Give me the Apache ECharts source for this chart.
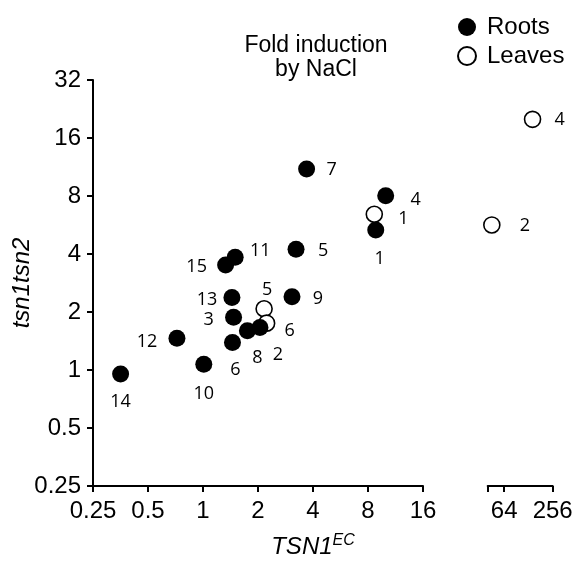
<!DOCTYPE html>
<html>
<head>
<meta charset="utf-8">
<script src="https://cdn.jsdelivr.net/npm/echarts@6/dist/echarts.min.js"></script>
<style>
html,body{margin:0;padding:0;background:#fff;}
#chart{width:586px;height:561px;}
</style>
</head>
<body>
<div id="chart"></div>
<script>
// ---- data ----
const rootIds = ['1','2','3','4','5','6','7','8','9','10','11','12','13','14','15'];
const rootX   = [8.82, 2.05, 1.47, 10.0, 3.23, 1.45, 3.69, 1.75, 3.07, 1.01, 1.50, 0.72, 1.44, 0.354, 1.33];
const rootY   = [5.33, 1.66, 1.88, 8.03, 4.23, 1.39, 11.05, 1.60, 2.40, 1.07, 3.85, 1.46, 2.38, 0.953, 3.51];

const leafIds = ['1','2','4','5','6'];
const leafX   = [8.66, 45, 144, 2.16, 2.23];
const leafY   = [6.43, 5.66, 20, 2.08, 1.75];

const xTicksLeft  = [0.25, 0.5, 1, 2, 4, 8, 16];
const xTicksRight = [64, 256];
const yTicks      = [0.25, 0.5, 1, 2, 4, 8, 16, 32];
const rightAxisStart = 40;

// ---- label placement (style, not data) ----
const rootLabelOffset = {
  '1':[4,29],'2':[18,27],'3':[-25,3],'4':[30,4],'5':[27,2],'6':[3,27],'7':[25,1],
  '8':[10,27],'9':[26,2],'10':[0,30],'11':[25,-6],'12':[-30,4],'13':[-25,2],'14':[0,28],'15':[-29,2]
};
const leafLabelOffset = {'1':[29,5],'2':[33,1],'4':[27,1],'5':[3,-19],'6':[23,8]};

const AX = 'Liberation Sans, Arial, sans-serif';
const LB = 'Open Sans, sans-serif';
const breakAt = xTicksLeft[xTicksLeft.length-1];

function pts(ids, xs, ys, offs, filterFn) {
  const out = [];
  ids.forEach((id, i) => {
    if (!filterFn(xs[i])) return;
    out.push({
      value: [xs[i], ys[i]],
      label: {offset: offs[id]},
      name: id
    });
  });
  return out;
}

const labelCommon = {
  show: true, position: 'inside', formatter: p => p.name,
  color: '#000', fontFamily: LB, fontSize: 18
};
const rootStyle = {color: '#000', opacity: 1};
const leafStyle = {color: '#fff', borderColor: '#000', borderWidth: 1.6, opacity: 1};

const chart = echarts.init(document.getElementById('chart'), null, {renderer: 'canvas'});
const gridTop = 80, gridH = 406;

chart.setOption({
  animation: false,
  backgroundColor: '#fff',
  title: {
    text: 'Fold induction\nby NaCl',
    left: 311, top: 29, textAlign: 'center',
    textStyle: {fontFamily: AX, fontSize: 23, fontWeight: 'normal', color: '#000', lineHeight: 24}
  },
  legend: {
    orient: 'vertical', left: 452, top: 10,
    itemWidth: 30, itemHeight: 18, itemGap: 5,
    icon: 'circle',
    textStyle: {fontFamily: AX, fontSize: 24, color: '#000'},
    data: ['Roots', 'Leaves']
  },
  grid: [
    {left: 93, top: gridTop, width: 330, height: gridH, containLabel: false, outerBoundsMode: 'none'},
    {left: 487.7, top: gridTop, width: 65, height: gridH, containLabel: false, outerBoundsMode: 'none'},
    {left: 93, top: gridTop, width: 440, height: gridH, containLabel: false, outerBoundsMode: 'none'}
  ],
  xAxis: [
    {
      gridIndex: 0, type: 'log', logBase: 2, min: xTicksLeft[0], max: breakAt,
      axisLine: {show: true, lineStyle: {color: '#000', width: 2}},
      axisTick: {show: true, length: 6, lineStyle: {color: '#000', width: 2}, customValues: xTicksLeft},
      axisLabel: {fontFamily: AX, fontSize: 24, color: '#000', margin: 13, customValues: xTicksLeft},
      splitLine: {show: false}
    },
    {
      gridIndex: 1, type: 'log', logBase: 2, min: rightAxisStart, max: xTicksRight[xTicksRight.length-1],
      axisLine: {show: true, lineStyle: {color: '#000', width: 2}},
      axisTick: {show: true, length: 6, lineStyle: {color: '#000', width: 2}, customValues: [rightAxisStart].concat(xTicksRight)},
      axisLabel: {fontFamily: AX, fontSize: 24, color: '#000', margin: 13, customValues: xTicksRight},
      splitLine: {show: false}
    },
    {
      gridIndex: 2, type: 'value', min: 0, max: 1,
      axisLine: {show: false}, axisTick: {show: false}, axisLabel: {show: false}, splitLine: {show: false},
      name: '{i|TSN1}{s|EC}', nameLocation: 'middle', nameGap: 47, nameMoveOverlap: false,
      nameTextStyle: {
        rich: {
          i: {fontFamily: AX, fontSize: 24, fontStyle: 'italic', color: '#000'},
          s: {fontFamily: AX, fontSize: 16, fontStyle: 'italic', color: '#000', verticalAlign: 'top', padding: [0,0,12,0]}
        }
      }
    }
  ],
  yAxis: [
    {
      gridIndex: 0, type: 'log', logBase: 2, min: yTicks[0], max: yTicks[yTicks.length-1],
      axisLine: {show: true, lineStyle: {color: '#000', width: 2}},
      axisTick: {show: true, length: 6, lineStyle: {color: '#000', width: 2}, customValues: yTicks},
      axisLabel: {fontFamily: AX, fontSize: 24, color: '#000', margin: 12, customValues: yTicks},
      splitLine: {show: false},
      name: 'tsn1tsn2', nameLocation: 'middle', nameGap: 59, nameMoveOverlap: false,
      nameTextStyle: {fontFamily: AX, fontSize: 24, fontStyle: 'italic', color: '#000'}
    },
    {
      gridIndex: 1, type: 'log', logBase: 2, min: yTicks[0], max: yTicks[yTicks.length-1],
      show: false
    },
    {
      gridIndex: 2, type: 'value', show: false
    }
  ],
  series: [
    {
      name: 'Leaves', type: 'scatter', xAxisIndex: 0, yAxisIndex: 0, z: 2,
      symbol: 'circle', symbolSize: 16, itemStyle: leafStyle, label: labelCommon,
      data: pts(leafIds, leafX, leafY, leafLabelOffset, x => x <= breakAt)
    },
    {
      name: 'Leaves', type: 'scatter', xAxisIndex: 1, yAxisIndex: 1, z: 2,
      symbol: 'circle', symbolSize: 16, itemStyle: leafStyle, label: labelCommon,
      data: pts(leafIds, leafX, leafY, leafLabelOffset, x => x > breakAt)
    },
    {
      name: 'Roots', type: 'scatter', xAxisIndex: 0, yAxisIndex: 0, z: 3,
      symbol: 'circle', symbolSize: 17, itemStyle: rootStyle, label: labelCommon,
      data: pts(rootIds, rootX, rootY, rootLabelOffset, x => true)
    }
  ]
});
</script>
</body>
</html>
